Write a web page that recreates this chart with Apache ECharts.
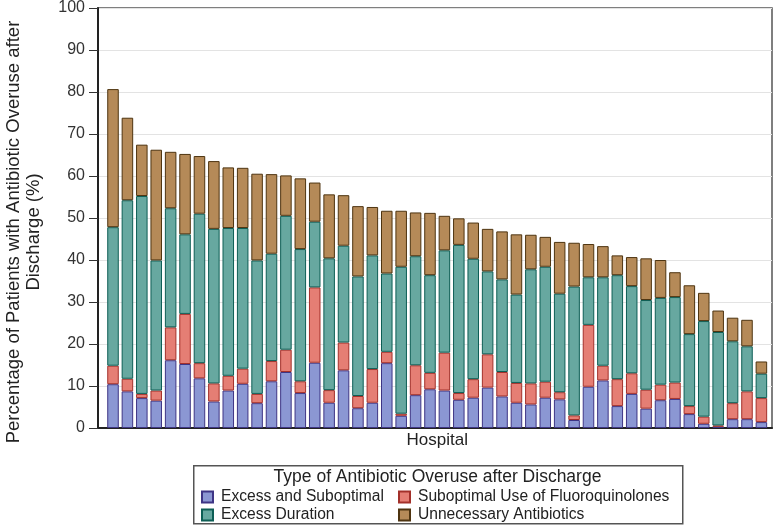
<!DOCTYPE html>
<html>
<head>
<meta charset="utf-8">
<script src="https://cdn.jsdelivr.net/npm/echarts@6/dist/echarts.min.js"></script>
<style>
  html, body { margin: 0; padding: 0; background: #fff; }
  #chart { width: 780px; height: 529px; }
</style>
</head>
<body>
<div id="chart"></div>
<script>
var hospitals = ["1","2","3","4","5","6","7","8","9","10","11","12","13","14","15","16","17","18","19","20","21","22","23","24","25","26","27","28","29","30","31","32","33","34","35","36","37","38","39","40","41","42","43","44","45","46"];

var excessSuboptimal = [10.4,8.7,7.1,6.5,16.1,15.2,11.8,6.3,8.9,10.5,5.9,11.1,13.3,8.3,15.5,6.0,13.7,4.7,6.0,15.4,2.9,7.8,9.2,8.9,6.7,7.2,9.6,7.5,6.0,5.6,7.2,6.8,1.9,9.8,11.3,5.2,8.1,4.6,6.6,6.9,3.3,1.0,0.3,2.1,2.1,1.4];
var fluoroquinolones = [4.4,3.0,1.0,2.4,7.8,11.9,3.6,4.3,3.5,3.6,2.2,4.8,5.3,2.8,17.9,3.0,6.6,2.9,8.0,2.7,0.5,7.1,3.9,9.0,1.6,4.4,7.9,5.8,4.7,5.0,3.8,1.7,1.1,14.7,3.5,6.4,4.9,4.5,3.7,3.9,1.9,1.7,0.3,3.8,6.6,5.7];
var excessDuration = [32.9,42.4,47.0,30.9,28.3,18.9,35.5,36.7,35.1,33.4,31.7,25.5,31.8,31.4,15.6,31.3,23.0,28.4,27.0,18.6,34.9,25.9,23.2,24.3,35.2,28.6,19.7,22.0,21.0,27.1,27.3,23.4,30.6,11.3,21.0,24.7,20.7,21.3,20.6,20.3,17.1,22.7,22.2,14.7,10.7,5.8];
var unnecessary = [32.8,19.6,12.2,26.3,13.4,19.1,13.7,16.1,14.4,14.3,20.6,18.9,9.6,16.8,9.3,15.2,12.0,16.7,11.5,14.9,13.3,10.4,14.8,8.2,6.3,8.6,10.1,11.4,14.3,8.2,7.1,12.3,10.4,7.9,7.4,4.7,6.9,9.9,9.0,5.9,11.6,6.7,5.1,5.6,6.3,2.9];

var yTicks = [0,10,20,30,40,50,60,70,80,90,100];
var seriesNames = ["Excess and Suboptimal","Suboptimal Use of Fluoroquinolones","Excess Duration","Unnecessary Antibiotics"];
var yTitle = 'Percentage of Patients with Antibiotic Overuse after\nDischarge (%)';
var legendTitle = 'Type of Antibiotic Overuse after Discharge';

var chart = echarts.init(document.getElementById('chart'), null, {renderer: 'canvas'});
var FONT = 'Liberation Sans, Arial, sans-serif';

function bar(name, data, fill, border) {
  return {
    name: name, type: 'bar', stack: 'total', data: data,
    xAxisIndex: 0, yAxisIndex: 0,
    barCategoryGap: '20%',
    itemStyle: { color: fill, borderColor: border, borderWidth: 1 },
    emphasis: { disabled: true },
    z: 3
  };
}

function legendItem(name, left, top) {
  return {
    data: [name], orient: 'horizontal', left: left, top: top, padding: 0,
    itemWidth: 11, itemHeight: 11, icon: 'rect', selectedMode: false,
    textStyle: { fontFamily: FONT, fontSize: 15.6, color: '#222', lineHeight: 18, padding: [0, 0, 0, 3] }
  };
}

var option = {
  animation: false,
  backgroundColor: '#ffffff',
  grid: [
    { left: 105.8, right: 11.4, top: 7, bottom: 101, containLabel: false },
    { left: 98, right: 8, top: 7, bottom: 101, show: true, borderColor: '#555', borderWidth: 1.5, backgroundColor: 'transparent' }
  ],
  xAxis: [
    { type: 'category', gridIndex: 0, data: hospitals,
      axisLine: { show: false }, axisTick: { show: false }, axisLabel: { show: false },
      name: 'Hospital', nameLocation: 'middle', nameGap: 4,
      nameTextStyle: { fontFamily: FONT, fontSize: 17, color: '#222', verticalAlign: 'top' } },
    { type: 'value', gridIndex: 1, min: 0, max: 1,
      axisLine: { show: true, lineStyle: { color: '#222', width: 2 } },
      axisTick: { show: false }, axisLabel: { show: false }, splitLine: { show: false } }
  ],
  yAxis: [
    { type: 'value', gridIndex: 0, min: 0, max: 100, show: false, splitLine: { show: false } },
    { type: 'value', gridIndex: 1, min: yTicks[0], max: yTicks[yTicks.length - 1], interval: 10,
      axisLine: { show: true, lineStyle: { color: '#222', width: 2 } },
      axisTick: { show: true, length: 9, lineStyle: { color: '#333', width: 1 } },
      axisLabel: { fontFamily: FONT, fontSize: 16, color: '#333', margin: 13 },
      splitLine: { show: true, lineStyle: { color: '#e3e3e3', width: 1 } } }
  ],
  legend: [
    legendItem(seriesNames[0], 201, 488),
    legendItem(seriesNames[2], 201, 506),
    legendItem(seriesNames[1], 398, 488),
    legendItem(seriesNames[3], 398, 506)
  ],
  graphic: [
    { type: 'rect', left: 193, top: 465, z: 0, silent: true,
      shape: { width: 489, height: 58 },
      style: { fill: '#fff', stroke: '#555', lineWidth: 1.5 } },
    { type: 'text', x: 437.5, y: 477, z: 5, silent: true,
      style: { text: legendTitle, fontFamily: FONT, fontSize: 17.5, fill: '#222',
               textAlign: 'center', textVerticalAlign: 'middle' } },
    { type: 'text', x: 24, y: 232, rotation: Math.PI / 2, z: 5, silent: true,
      style: { text: yTitle, fontFamily: FONT, fontSize: 18.5, lineHeight: 20.5, fill: '#222',
               textAlign: 'center', textVerticalAlign: 'middle' } }
  ],
  series: [
    bar(seriesNames[0], excessSuboptimal, '#8b97d3', '#3e3585'),
    bar(seriesNames[1], fluoroquinolones, '#e57e74', '#a3302a'),
    bar(seriesNames[2], excessDuration, '#67a8a0', '#0d5e55'),
    bar(seriesNames[3], unnecessary, '#b58a58', '#4e3410')
  ]
};
chart.setOption(option);
</script>
</body>
</html>
